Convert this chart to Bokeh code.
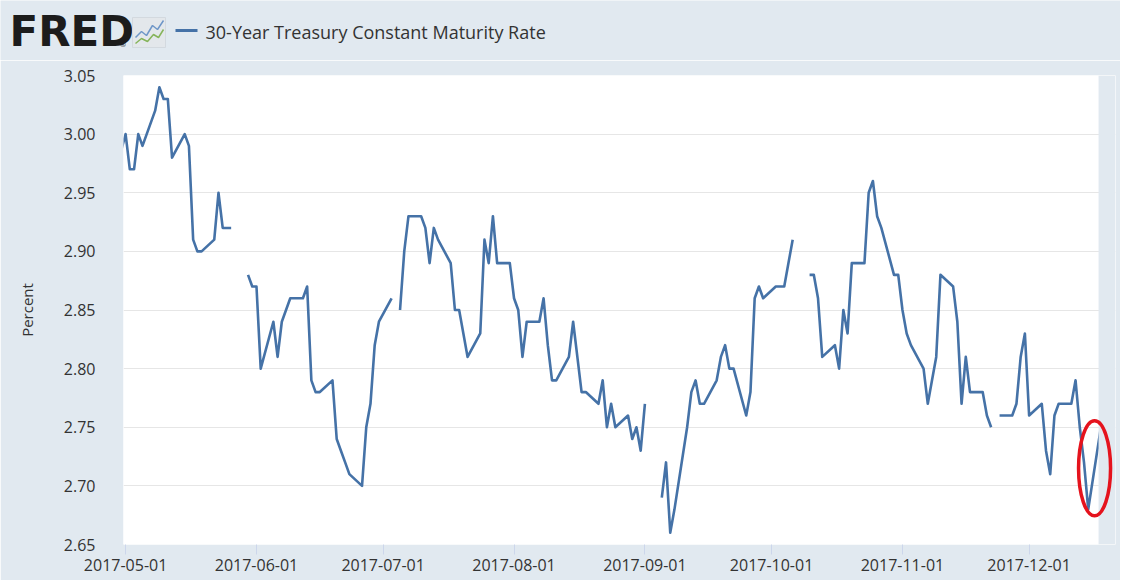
import pandas as pd
from bokeh.plotting import figure
from bokeh.layouts import column
from bokeh.models import (Range1d, FixedTicker, DatetimeTickFormatter, BoxAnnotation,
                          ColumnDataSource, NumeralTickFormatter)
from bokeh.core.properties import value
from bokeh.embed import file_html
from bokeh.resources import INLINE

nan = float("nan")

# ---------------- data ----------------
series_name = "30-Year Treasury Constant Maturity Rate"
dates = pd.bdate_range("2017-04-28", "2017-12-18")
rates = [
    2.96,
    # May 2017
    3.00, 2.97, 2.97, 3.00, 2.99, 3.02, 3.04, 3.03, 3.03, 2.98, 3.00, 2.99,
    2.91, 2.90, 2.90, 2.91, 2.95, 2.92, 2.92, 2.92, nan, 2.88, 2.87,
    # June 2017
    2.87, 2.80, 2.84, 2.81, 2.84, 2.85, 2.86, 2.86, 2.87, 2.79, 2.78, 2.78,
    2.79, 2.74, 2.73, 2.72, 2.71, 2.70, 2.75, 2.77, 2.82, 2.84,
    # July 2017
    2.86, nan, 2.85, 2.90, 2.93, 2.93, 2.92, 2.89, 2.92, 2.91, 2.89, 2.85,
    2.85, 2.83, 2.81, 2.83, 2.91, 2.89, 2.93, 2.89, 2.89,
    # August 2017
    2.86, 2.85, 2.81, 2.84, 2.84, 2.86, 2.82, 2.79, 2.79, 2.81, 2.84, 2.81,
    2.78, 2.78, 2.77, 2.79, 2.75, 2.77, 2.75, 2.76, 2.74, 2.75, 2.73,
    # September 2017
    2.77, nan, 2.69, 2.72, 2.66, 2.68, 2.75, 2.78, 2.79, 2.77, 2.77, 2.79,
    2.81, 2.82, 2.80, 2.80, 2.76, 2.78, 2.86, 2.87, 2.86,
    # October 2017
    2.87, 2.87, 2.87, 2.89, 2.91, nan, 2.88, 2.88, 2.86, 2.81, 2.82, 2.80,
    2.85, 2.83, 2.89, 2.89, 2.95, 2.96, 2.93, 2.92, 2.88, 2.88,
    # November 2017
    2.85, 2.83, 2.82, 2.80, 2.77, 2.79, 2.81, 2.88, 2.87, 2.84, 2.77, 2.81,
    2.78, 2.78, 2.76, 2.75, nan, 2.76, 2.76, 2.77, 2.81, 2.83,
    # December 2017
    2.76, 2.77, 2.73, 2.71, 2.76, 2.77, 2.77, 2.79, 2.75, 2.72, 2.68, 2.75,
]
assert len(rates) == len(dates)

x_tick_labels = ["2017-05-01", "2017-06-01", "2017-07-01", "2017-08-01",
                 "2017-09-01", "2017-10-01", "2017-11-01", "2017-12-01"]
y_ticks = [2.65, 2.70, 2.75, 2.80, 2.85, 2.90, 2.95, 3.00, 3.05]

# ---------------- styling ----------------
BG = "#e1e9f0"
LINE = "#4572a7"
TXT = "#333333"
FONT = "Open Sans"
W = 1120


def no_align(fig):
    if "frame_align" in fig.properties():
        fig.frame_align = False


# ---------------- header (logo + legend) ----------------
header = figure(width=W, height=60, x_range=Range1d(0, W), y_range=Range1d(60, 0),
                toolbar_location=None, output_backend="svg", min_border=0,
                x_axis_location=None, y_axis_location=None,
                background_fill_color=BG, border_fill_color=BG, outline_line_color=None)
header.grid.visible = False
no_align(header)
header.text(x=[9], y=[31], text=["FRED"], text_font=value("DejaVu Sans"),
            text_font_style="bold", text_font_size="42px", text_color="#1c1c1c",
            text_baseline="middle")
header.text(x=[119], y=[44], text=["\u00ae"], text_font=value("DejaVu Sans"),
            text_font_size="7px", text_color="#1c1c1c", text_baseline="middle")
# small chart icon
header.quad(left=[132], right=[165], top=[17], bottom=[47], fill_color="#e3e7eb",
            line_color="#d3d9df", line_width=1)
header.line(x=[135, 141, 146, 152, 157, 163], y=[37, 31, 35, 25, 29, 20],
            line_color="#6f97c8", line_width=1.5)
header.line(x=[135, 141, 147, 153, 158, 163], y=[43, 38, 41, 34, 37, 29],
            line_color="#86b45a", line_width=1.5)
# legend
header.line(x=[175, 197], y=[30, 30], line_color=LINE, line_width=3)
header.text(x=[205], y=[31], text=[series_name], text_font=value(FONT),
            text_font_size="18px", text_color=TXT, text_baseline="middle")

# ---------------- main chart ----------------
start = pd.Timestamp("2017-05-01")
x_range = Range1d(start=start - pd.Timedelta(days=0.497),
                  end=start + pd.Timedelta(days=234.46))

p = figure(width=W, height=520, x_axis_type="datetime", x_range=x_range,
           y_range=Range1d(2.65, 3.05), toolbar_location=None, output_backend="svg",
           min_border_left=123, min_border_right=W - 1115, min_border_top=15,
           min_border_bottom=36, background_fill_color="white",
           border_fill_color=BG, outline_line_color=None)
no_align(p)

src = ColumnDataSource(dict(date=dates, rate=rates))
p.line("date", "rate", source=src, line_color=LINE, line_width=2.6, line_join="round")

# right-hand strip outside the data window (background colour)
strip = BoxAnnotation(left=start + pd.Timedelta(days=230.45), fill_color=BG,
                      fill_alpha=1.0, line_alpha=0.0)
p.add_layout(strip)

# red highlight ellipse around the last observations
cx = dates[-2] + (dates[-1] - dates[-2]) / 2
cy = (rates[-2] + rates[-1]) / 2
p.ellipse(x=[cx], y=[cy], width=32, height=95, width_units="screen",
          height_units="screen", fill_color=None, line_color="#e5131d",
          line_width=3.5, level="overlay")

# axes
tick_ms = [int(pd.Timestamp(t).value // 10**6) for t in x_tick_labels]
p.xaxis.ticker = FixedTicker(ticks=tick_ms)
fmt = "%Y-%m-%d"
p.xaxis.formatter = DatetimeTickFormatter(milliseconds=fmt, seconds=fmt, minsec=fmt,
                                          minutes=fmt, hourmin=fmt, hours=fmt,
                                          days=fmt, months=fmt, years=fmt)
p.xaxis.axis_line_color = None
p.xaxis.major_tick_line_color = "#ccd6eb"
p.xaxis.major_tick_out = 10
p.xaxis.major_tick_in = 0
p.xaxis.minor_tick_line_color = None
p.xaxis.major_label_standoff = 4
p.xaxis.major_label_text_font = FONT
p.xaxis.major_label_text_font_size = "16px"
p.xaxis.major_label_text_color = TXT

p.yaxis.ticker = FixedTicker(ticks=y_ticks)
p.yaxis.formatter = NumeralTickFormatter(format="0.00")
p.yaxis.axis_line_color = None
p.yaxis.major_tick_line_color = None
p.yaxis.minor_tick_line_color = None
p.yaxis.major_label_standoff = 22
p.yaxis.major_label_text_font = FONT
p.yaxis.major_label_text_font_size = "16px"
p.yaxis.major_label_text_color = TXT
p.yaxis.axis_label = "Percent"
p.yaxis.axis_label_text_font = FONT
p.yaxis.axis_label_text_font_size = "15px"
p.yaxis.axis_label_text_font_style = "normal"
p.yaxis.axis_label_text_color = TXT
p.yaxis.axis_label_standoff = 24

p.xgrid.visible = False
p.ygrid.grid_line_color = "#e6e6e6"
p.ygrid.grid_line_width = 1

layout = column(header, p, spacing=0)
html = file_html(layout, INLINE)
html = html.replace("<body>", '<body style="background-color:%s;">' % BG, 1)
open("out.html", "w").write(html)
